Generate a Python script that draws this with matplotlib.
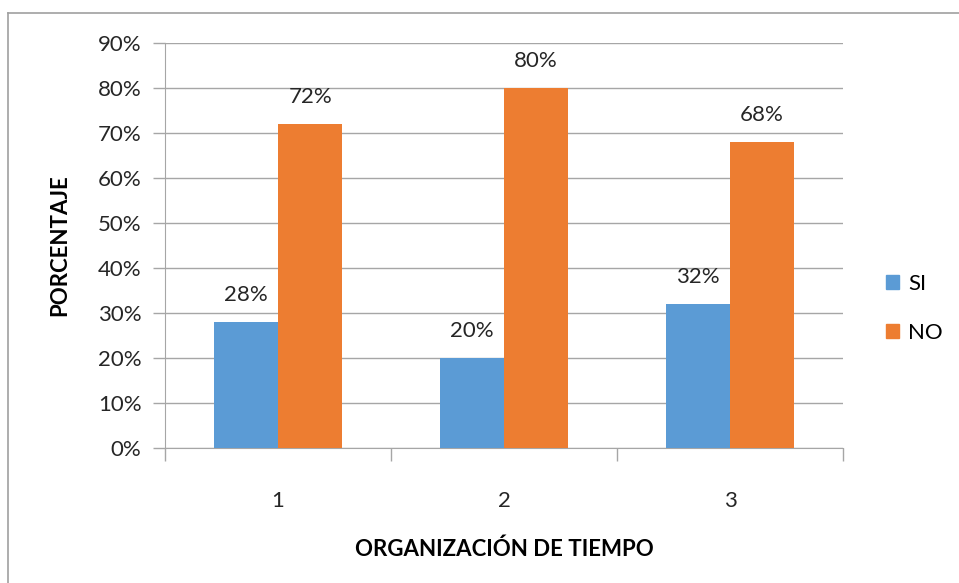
import matplotlib.pyplot as plt
import numpy as np
from matplotlib.patches import Patch
from matplotlib.lines import Line2D

plt.rcParams['font.family'] = ['Lato', 'DejaVu Sans']

categories = ['1', '2', '3']
si = [28, 20, 32]
no = [72, 80, 68]
yticks = [0, 10, 20, 30, 40, 50, 60, 70, 80, 90]

blue = '#5B9BD5'
orange = '#ED7D31'
grid = '#A6A6A6'

fig = plt.figure(figsize=(9.59, 5.83), dpi=100)
ax = fig.add_axes([0.172, 0.2316, 0.707, 0.6946])

x = np.arange(len(categories))
w = 0.285
b1 = ax.bar(x - w / 2, si, w, color=blue, zorder=3)
b2 = ax.bar(x + w / 2, no, w, color=orange, zorder=3)

# data labels above bars
for bars, vals in ((b1, si), (b2, no)):
    for r, v in zip(bars, vals):
        ax.annotate(f'{v}%', (r.get_x() + r.get_width() / 2, v),
                    xytext=(0, 12), textcoords='offset points',
                    ha='center', va='bottom', fontsize=16, color='#262626')

ax.set_xlim(-0.5, 2.5)
ax.set_ylim(0, 90)
ax.set_yticks(yticks)
ax.set_yticklabels([f'{t}%' for t in yticks], fontsize=16, color='#262626')
ax.yaxis.grid(True, color=grid, linewidth=1, zorder=0)
ax.tick_params(axis='y', length=9, width=1, color=grid, pad=8)

# category boundary ticks, labels centred between
ax.set_xticks([-0.5, 0.5, 1.5, 2.5])
ax.set_xticklabels([])
ax.set_xticks(x, minor=True)
ax.set_xticklabels(categories, minor=True, fontsize=16, color='#262626')
ax.tick_params(axis='x', which='major', length=9, width=1, color=grid)
ax.tick_params(axis='x', which='minor', length=0, pad=31)

for s in ['top', 'right']:
    ax.spines[s].set_visible(False)
ax.spines['left'].set_color(grid)
ax.spines['bottom'].set_color(grid)

ax.set_xlabel('ORGANIZACIÓN DE TIEMPO', fontsize=16, fontweight='bold', labelpad=20)
ax.set_ylabel('PORCENTAJE', fontsize=16, fontweight='bold', labelpad=20)

handles = [Patch(color=blue, label='SI'), Patch(color=orange, label='NO')]
fig.legend(handles=handles, loc='center left', bbox_to_anchor=(0.912, 0.471),
           frameon=False, fontsize=16, handlelength=0.6, handleheight=0.6,
           handletextpad=0.4, labelspacing=1.3, borderpad=0)

# chart border (only top and left visible)
fig.add_artist(Line2D([8 / 959, 8 / 959], [0, 1 - 13 / 583], transform=fig.transFigure,
                      color='#A0A0A0', linewidth=1.2))
fig.add_artist(Line2D([8 / 959, 1], [1 - 13 / 583, 1 - 13 / 583], transform=fig.transFigure,
                      color='#A0A0A0', linewidth=1.2))

fig.savefig('out.png', dpi=100)
